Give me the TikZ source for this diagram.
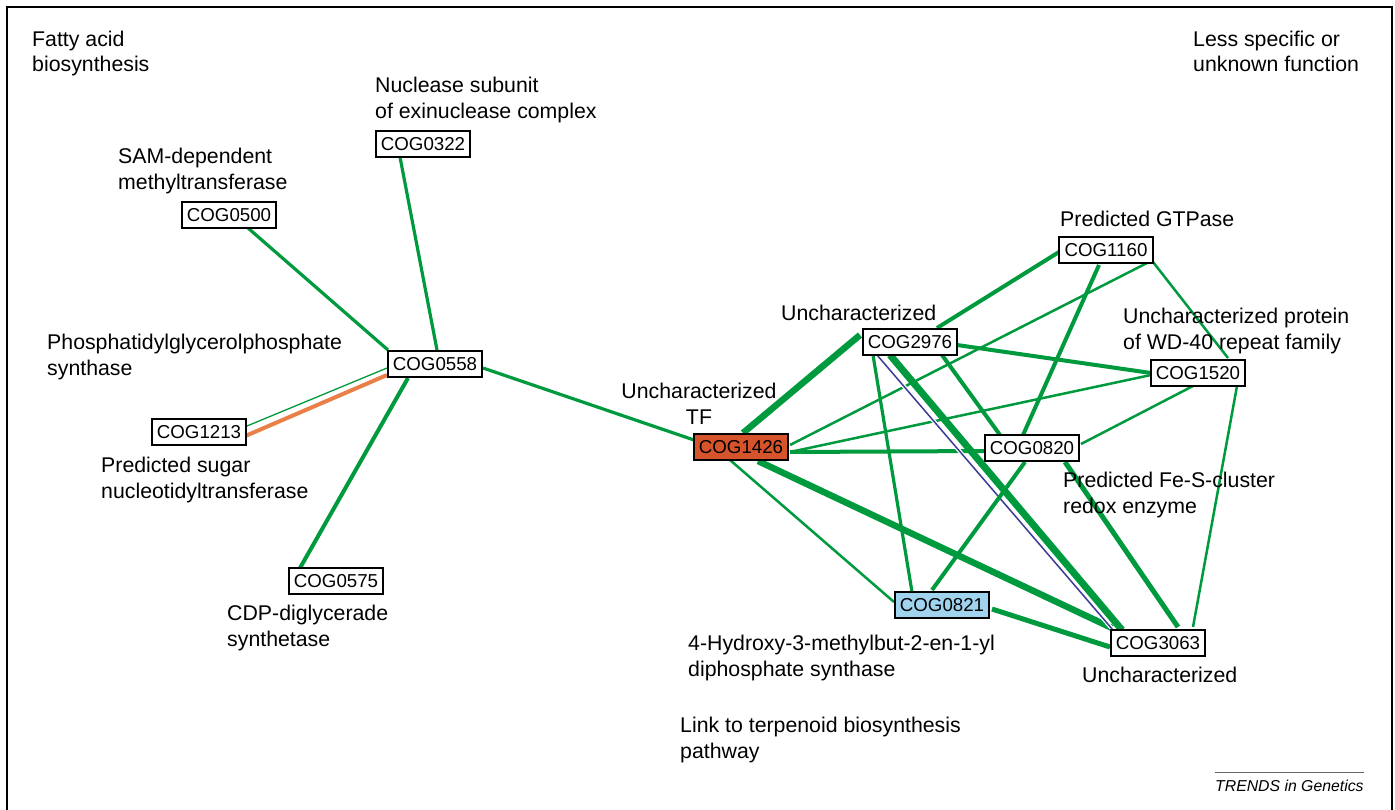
\documentclass[tikz,border=0pt]{standalone}
\usepackage{fontspec}
\setmainfont{Liberation Sans}
\usetikzlibrary{calc}
\pgfdeclarelayer{bg}
\pgfsetlayers{bg,main}
\definecolor{eg}{RGB}{0,154,62}
\definecolor{eorange}{RGB}{232,128,72}
\definecolor{epurple}{RGB}{60,60,150}
\definecolor{tfred}{RGB}{213,84,43}
\definecolor{ispblue}{RGB}{160,212,238}
\begin{document}
\begin{tikzpicture}[x=1pt,y=-1pt,
  cog/.style={draw,line width=1.2pt,fill=white,minimum width=94pt,minimum height=26pt,inner sep=0pt,font=\fontsize{18.7}{20}\selectfont},
  lbl/.style={inner sep=0pt,align=left,anchor=base west,font=\fontsize{21.3}{25.5}\selectfont},
  ea/.style={draw=eg,line width=2.5pt},
  eb/.style={draw=eg,line width=3.2pt},
  ec/.style={draw=eg,line width=4pt},
  ed/.style={draw=eg,line width=5pt},
  ee/.style={draw=eg,line width=6.5pt}]
\useasboundingbox (0,0) rectangle (1395,809);
\clip (0,0) rectangle (1395,809);
\draw[line width=1.5pt] (7,7) rectangle (1392,830);

% nodes
\node[cog] (n0322) at (423,144) {COG0322};
\node[cog] (n0500) at (229,215) {COG0500};
\node[cog] (n0558) at (435,364) {COG0558};
\node[cog] (n1213) at (199,432) {COG1213};
\node[cog] (n0575) at (336,581) {COG0575};
\node[cog,fill=tfred] (n1426) at (741,447) {COG1426};
\node[cog] (n2976) at (910,342) {COG2976};
\node[cog] (n1160) at (1106,250) {COG1160};
\node[cog] (n1520) at (1198,373) {COG1520};
\node[cog] (n0820) at (1032,448) {COG0820};
\node[cog,fill=ispblue] (n0821) at (942,605) {COG0821};
\node[cog] (n3063) at (1158,643) {COG3063};

% labels (base = baseline of the last line)
\node[lbl] (lfat) at (32,71.5) {Fatty acid\\biosynthesis};
\node[lbl] (lless) at (1193,71.5) {Less specific or\\unknown function};
\node[lbl] (lnuc) at (375,118) {Nuclease subunit\\of exinuclease complex};
\node[lbl] (lsam) at (118,189) {SAM-dependent\\methyltransferase};
\node[lbl] (lpgp) at (47,375) {Phosphatidylglycerolphosphate\\synthase};
\node[lbl] (lsug) at (101,498) {Predicted sugar\\nucleotidyltransferase};
\node[lbl] (lcdp) at (227,646) {CDP-diglycerade\\synthetase};
\node[lbl,align=center,anchor=base] (ltf) at (699,424) {Uncharacterized\\TF};
\node[lbl] (lunc1) at (781,320) {Uncharacterized};
\node[lbl] (lgtp) at (1060,226) {Predicted GTPase};
\node[lbl] (lwd) at (1123,349) {Uncharacterized protein\\of WD-40 repeat family};
\node[lbl] (lfes) at (1063,513) {Predicted Fe-S-cluster\\redox enzyme};
\node[lbl] (lhmb) at (688,676) {4-Hydroxy-3-methylbut-2-en-1-yl\\diphosphate synthase};
\node[lbl] (lunc2) at (1082,682) {Uncharacterized};
\node[lbl] (llink) at (680,758) {Link to terpenoid biosynthesis\\pathway};
\node[inner sep=0pt,anchor=base west,font=\fontsize{15.8}{18}\selectfont\itshape] (ltrends) at (1215,791) {TRENDS in Genetics};
\draw[line width=1pt,black!60] (ltrends.north west)++(0,-7) coordinate (tl) -- (tl -| ltrends.east);

% edges
\begin{pgfonlayer}{bg}
\draw[eb] ($(n0322)+(-23,13)$) -- ($(n0558)+(2,-14)$);
\draw[eb] ($(n0500)+(19,13)$) -- ($(n0558)+(-47,-14)$);
\draw[draw=eg,line width=1.3pt] ($(n1213)+(48,-6)$) -- ($(n0558)+(-48,4)$);
\draw[draw=eorange,line width=4pt] ($(n1213)+(44,5)$) -- ($(n0558)+(-48,11)$);
\draw[ec] ($(n0575)+(-36,-13)$) -- ($(n0558)+(-27,14)$);
\draw[eb] ($(n0558)+(48,4)$) -- ($(n1426)+(-47,-7)$);
\draw[ee] ($(n1426)+(2,-14)$) -- ($(n2976)+(-50,-7)$);
\draw[ea] ($(n1426)+(49,-2)$) -- ($(n1160)+(41,13)$);
\draw[ea] ($(n1426)+(49,5)$) -- ($(n1520)+(-47,2)$);
\draw[ec] ($(n1426)+(49,5)$) -- ($(n0820)+(-47,3)$);
\draw[ea] ($(n1426)+(-11,13)$) -- ($(n0821)+(-48,-3)$);
\draw[ee] ($(n1426)+(17,14)$) -- ($(n3063)+(-46,-15)$);
\draw[ec] ($(n2976)+(47,3)$) -- ($(n1520)+(-47,0)$);
\draw[ec] ($(n2976)+(32,13)$) -- ($(n0820)+(-32,-13)$);
\draw[eb] ($(n2976)+(-37,13)$) -- ($(n0821)+(-30,-13)$);
\draw[draw=eg,line width=7pt] ($(n2976)+(-20,13)$) -- ($(n3063)+(-36,-13)$);
\draw[white,line width=4pt] ($(n2976)+(-33,13)$) -- ($(n3063)+(-45,-13)$);
\draw[epurple,line width=1.5pt] ($(n2976)+(-33,13)$) -- ($(n3063)+(-45,-13)$);
\draw[ec] ($(n2976)+(27,-14)$) -- ($(n1160)+(-47,2)$);
\draw[ea] ($(n1160)+(47,12)$) -- ($(n1520)+(30,-15)$);
\draw[ec] ($(n1160)+(-7,15)$) -- ($(n0820)+(-9,-13)$);
\draw[ea] ($(n1520)+(-5,13)$) -- ($(n0820)+(49,-4)$);
\draw[ea] ($(n1520)+(39,13)$) -- ($(n3063)+(35,-16)$);
\draw[ec] ($(n0820)+(-7,14)$) -- ($(n0821)+(-10,-15)$);
\draw[ed] ($(n0820)+(33,14)$) -- ($(n3063)+(20,-16)$);
\draw[ed] ($(n0821)+(50,4)$) -- ($(n3063)+(-48,4)$);
\end{pgfonlayer}
\end{tikzpicture}
\end{document}
